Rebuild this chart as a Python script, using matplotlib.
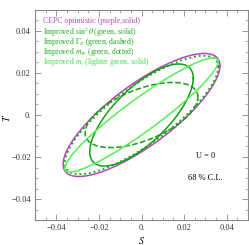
import numpy as np
import matplotlib
matplotlib.use("Agg")
import matplotlib.pyplot as plt
from matplotlib.ticker import MultipleLocator

plt.rcParams['font.family'] = ['Liberation Serif', 'DejaVu Serif']
plt.rcParams['mathtext.fontset'] = 'stix'

# ellipse parameters (center S, center T, sigma S, sigma T, correlation)
names = ["CEPC optimistic", "sin2theta", "GammaZ", "mW", "mt"]
cS = [0.0, 0.0, 0.0, 0.0, 0.0]
cT = [0.0, 0.0, 0.0, 0.0, 0.0]
sigS = [0.0368, 0.0243, 0.0265, 0.0360, 0.0360]
sigT = [0.0293, 0.0243, 0.0155, 0.0282, 0.0272]
rho = [0.80, 0.72, 0.55, 0.81, 0.936]

colors = ["#b248b8", "#12a012", "#12a012", "#12a012", "#55ee55"]
styles = ["-", "-", "--", ":", "-"]

legend_text = ["CEPC optimistic (purple,solid)",
               r"Improved $\sin^2\theta$ (green, solid)",
               r"Improved $\Gamma_Z$ (green, dashed)",
               r"Improved $m_W$ (green, dotted)",
               r"Improved $m_t$ (lighter green, solid)"]
text_colors = ["#b248b8", "#1caa1c", "#1caa1c", "#1caa1c", "#44dd44"]
legend_y = [0.949, 0.894, 0.846, 0.799, 0.751]

fig = plt.figure(figsize=(2.49, 2.45), dpi=100)
ax = fig.add_axes([35/249, 25/245, 213/249, 210/245])

t = np.linspace(0, 2*np.pi, 400)
for i in range(len(names)):
    phi = np.arccos(rho[i])
    s = cS[i] + sigS[i]*np.cos(t)
    tt = cT[i] + sigT[i]*np.cos(t - phi)
    lw = 1.1
    if styles[i] == ":":
        lw = 1.3
    ax.plot(s, tt, color=colors[i], linestyle=styles[i], lw=lw)

ax.set_xlim(-0.05, 0.05)
ax.set_ylim(-0.05, 0.05)

ax.xaxis.set_minor_locator(MultipleLocator(0.005))
ax.yaxis.set_minor_locator(MultipleLocator(0.005))

def fmt(v):
    if abs(v) < 1e-9:
        return "0."
    return ("\u22120.%02d" % round(abs(v)*100)) if v < 0 else "0.%02d" % round(v*100)

ticks = [-0.04, -0.02, 0.0, 0.02, 0.04]
ax.set_xticks(ticks)
ax.set_yticks(ticks)
ax.set_xticklabels([fmt(v) for v in ticks])
ax.set_yticklabels([fmt(v) for v in ticks])

ax.tick_params(which='both', direction='in', top=True, right=True,
               color='#888888', labelsize=6, labelcolor='#333333', pad=3)
ax.tick_params(which='major', length=4, width=0.6)
ax.tick_params(which='minor', length=2, width=0.5)
for sp in ax.spines.values():
    sp.set_color('#888888')
    sp.set_linewidth(0.8)

ax.set_xlabel("$S$", fontsize=7, labelpad=2)
# T label placed by hand so it is not clipped at the left edge
fig.text(6/249, 0.5 + 5/245, "$T$", fontsize=7, rotation=90, ha='center', va='center')

for i, txt in enumerate(legend_text):
    ax.text(0.036, legend_y[i], txt, transform=ax.transAxes,
            color=text_colors[i], fontsize=5.6, va='center', ha='left')

ax.text(0.03, -0.0197, "U = 0", fontsize=6, ha='center', va='center')
ax.text(0.03, -0.0300, "68 % C.L.", fontsize=6, ha='center', va='center')

fig.savefig("out.png", dpi=100)
